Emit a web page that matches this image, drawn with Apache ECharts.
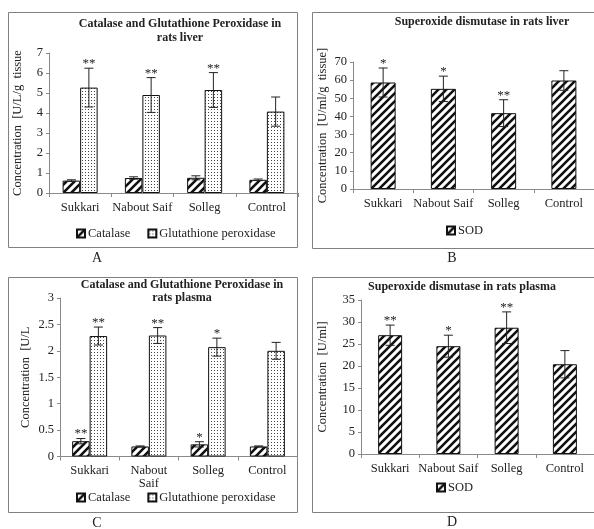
<!DOCTYPE html>
<html><head><meta charset="utf-8">
<script src="https://cdn.jsdelivr.net/npm/echarts@6/dist/echarts.min.js"></script>
<style>html,body{margin:0;padding:0;background:#fff}#c{width:594px;height:529px}</style>
</head><body><div id="c"></div>
<script>
// ---- data ----
const categories = ['Sukkari', 'Nabout Saif', 'Solleg', 'Control'];
const categoriesC = ['Sukkari', 'Nabout\nSaif', 'Solleg', 'Control'];
// A: liver
const liverCatalase = [0.62, 0.75, 0.76, 0.66];
const liverCatalaseErr = [0.04, 0.06, 0.10, 0.04];
const liverCatalaseSig = ['', '', '', ''];
const liverGPx = [5.27, 4.90, 5.15, 4.07];
const liverGPxErr = [0.97, 0.87, 0.87, 0.73];
const liverGPxSig = ['**', '**', '**', ''];
// B: liver SOD
const liverSOD = [58.7, 55.2, 41.8, 59.8];
const liverSODErr = [8.0, 7.0, 7.4, 5.4];
const liverSODSig = ['*', '*', '**', ''];
// C: plasma
const plasmaCatalase = [0.29, 0.19, 0.23, 0.19];
const plasmaCatalaseErr = [0.05, 0.01, 0.05, 0.01];
const plasmaCatalaseSig = ['**', '', '*', ''];
const plasmaGPx = [2.28, 2.29, 2.07, 2.00];
const plasmaGPxErr = [0.17, 0.15, 0.17, 0.16];
const plasmaGPxSig = ['**', '**', '*', ''];
// D: plasma SOD
const plasmaSOD = [27.0, 24.5, 28.7, 20.4];
const plasmaSODErr = [2.3, 2.5, 3.6, 3.1];
const plasmaSODSig = ['**', '*', '**', ''];
// tick settings
const yAxisA = {min: 0, max: 7, interval: 1};
const yAxisB = {min: 0, max: 70, interval: 10};
const yAxisC = {min: 0, max: 3, interval: 0.5};
const yAxisD = {min: 0, max: 35, interval: 5};

// ---- patterns ----
function stripes() {
  const c = document.createElement('canvas'); c.width = 8; c.height = 8;
  const g = c.getContext('2d');
  g.fillStyle = '#fff'; g.fillRect(0, 0, 8, 8);
  g.strokeStyle = '#111'; g.lineWidth = 2.6;
  g.beginPath();
  g.moveTo(-2, 10); g.lineTo(10, -2);
  g.moveTo(-6, 6); g.lineTo(6, -6);
  g.moveTo(2, 14); g.lineTo(14, 2);
  g.stroke();
  return c;
}
function dots() {
  const c = document.createElement('canvas'); c.width = 3; c.height = 3;
  const g = c.getContext('2d');
  g.fillStyle = '#fff'; g.fillRect(0, 0, 3, 3);
  g.fillStyle = '#444'; g.fillRect(1, 1, 1, 1);
  return c;
}
const hatch = {image: stripes(), repeat: 'repeat'};
const dotted = {image: dots(), repeat: 'repeat'};

const FONT = 'Liberation Serif';
const chart = echarts.init(document.getElementById('c'), null, {renderer: 'canvas'});

const grids = [
  {left: 49, top: 53, width: 249, height: 140},
  {left: 353, top: 62, width: 251, height: 127},
  {left: 60, top: 298, width: 237, height: 158.5},
  {left: 361, top: 300, width: 245, height: 154}
];
const names = ['Concentration  [U/L/g  tissue', 'Concentration  [U/ml/g  tissue]', 'Concentration  [U/L', 'Concentration  [U/ml]'];
const gaps = [25, 24, 28, 32];
const ys = [yAxisA, yAxisB, yAxisC, yAxisD];

const xAxes = grids.map((g, i) => ({
  type: 'category', gridIndex: i, data: i === 2 ? categoriesC : categories,
  axisLine: {lineStyle: {color: '#8a8a8a'}},
  axisTick: {show: true, length: 4, lineStyle: {color: '#8a8a8a'}},
  axisLabel: {color: '#222', fontFamily: FONT, fontSize: 12.5, margin: 8, lineHeight: 13, interval: 0},
  splitLine: {show: false}
}));
const yAxes = grids.map((g, i) => ({
  type: 'value', gridIndex: i, min: ys[i].min, max: ys[i].max, interval: ys[i].interval,
  name: names[i], nameLocation: 'middle', nameGap: gaps[i],
  nameTextStyle: {color: '#222', fontFamily: FONT, fontSize: 12.5},
  axisLine: {show: true, lineStyle: {color: '#8a8a8a'}},
  axisTick: {show: true, length: 3, lineStyle: {color: '#8a8a8a'}},
  axisLabel: {color: '#222', fontFamily: FONT, fontSize: 12.5, margin: 6},
  splitLine: {show: false}
}));

const barWidths = [17.5, 25, 17.5, 24];

function barSeries(name, vals, gi, color) {
  return {
    type: 'bar', name: name, xAxisIndex: gi, yAxisIndex: gi, data: vals,
    barWidth: barWidths[gi], barGap: '0%',
    itemStyle: {color: color, borderColor: '#111', borderWidth: 1},
    emphasis: {disabled: true}, animation: false, z: 2
  };
}
function errSeries(vals, errs, sig, gi, offset) {
  return {
    type: 'custom', xAxisIndex: gi, yAxisIndex: gi, z: 5, animation: false, silent: true,
    data: vals.map((v, i) => [i, v, errs[i]]),
    encode: {x: 0, y: 1},
    clip: false,
    renderItem: function (params, api) {
      const x = api.value(0), v = api.value(1), e = api.value(2);
      const top = api.coord([x, v + e]);
      const bot = api.coord([x, v - e]);
      const cx = top[0] + offset;
      const cap = 4.5;
      const st = {stroke: '#222', lineWidth: 1};
      const children = [
        {type: 'line', shape: {x1: cx, y1: top[1], x2: cx, y2: bot[1]}, style: st},
        {type: 'line', shape: {x1: cx - cap, y1: top[1], x2: cx + cap, y2: top[1]}, style: st},
        {type: 'line', shape: {x1: cx - cap, y1: bot[1], x2: cx + cap, y2: bot[1]}, style: st}
      ];
      const s = sig[params.dataIndex];
      if (s) {
        children.push({type: 'text', style: {text: s, x: cx, y: top[1] + 2, textAlign: 'center', textVerticalAlign: 'bottom',
          fill: '#222', font: '13px "' + FONT + '"'}});
      }
      return {type: 'group', children: children};
    }
  };
}

const series = [
  barSeries('Catalase', liverCatalase, 0, hatch),
  barSeries('Glutathione peroxidase', liverGPx, 0, dotted),
  errSeries(liverCatalase, liverCatalaseErr, liverCatalaseSig, 0, -barWidths[0] / 2),
  errSeries(liverGPx, liverGPxErr, liverGPxSig, 0, barWidths[0] / 2),
  barSeries('SOD', liverSOD, 1, hatch),
  errSeries(liverSOD, liverSODErr, liverSODSig, 1, 0),
  barSeries('Catalase', plasmaCatalase, 2, hatch),
  barSeries('Glutathione peroxidase', plasmaGPx, 2, dotted),
  errSeries(plasmaCatalase, plasmaCatalaseErr, plasmaCatalaseSig, 2, -barWidths[2] / 2),
  errSeries(plasmaGPx, plasmaGPxErr, plasmaGPxSig, 2, barWidths[2] / 2),
  barSeries('SOD', plasmaSOD, 3, hatch),
  errSeries(plasmaSOD, plasmaSODErr, plasmaSODSig, 3, 0)
];

const legendBase = {
  orient: 'horizontal', itemWidth: 8, itemHeight: 8, itemGap: 17, icon: 'rect',
  textStyle: {color: '#222', fontFamily: FONT, fontSize: 12.5, padding: [0, 0, 0, -2]},
  selectedMode: false, padding: 0
};
const legends = [
  Object.assign({}, legendBase, {data: ['Catalase', 'Glutathione peroxidase'], left: 76, top: 227}),
  Object.assign({}, legendBase, {data: ['SOD'], left: 446, top: 224}),
  Object.assign({}, legendBase, {data: ['Catalase', 'Glutathione peroxidase'], left: 76, top: 491}),
  Object.assign({}, legendBase, {data: ['SOD'], left: 436, top: 481})
];

function txt(t, x, y, size, bold) {
  return {type: 'text', x: x, y: y, silent: true,
    style: {text: t, x: 0, y: 0, textAlign: 'center', textVerticalAlign: 'middle', fill: '#222',
      font: (bold ? 'bold ' : '') + size + 'px "' + FONT + '"'}};
}
function box(x, y, w, h) {
  return {type: 'rect', silent: true, shape: {x: x, y: y, width: w, height: h},
    style: {fill: null, stroke: '#808080', lineWidth: 1}, z: -1};
}
const graphics = [
  box(8.5, 12.5, 289, 235), box(312.5, 12.5, 290, 236),
  box(8.5, 277.5, 289, 235), box(312.5, 277.5, 290, 235),
  txt('Catalase and Glutathione Peroxidase in', 180, 24, 12, true),
  txt('rats liver', 180, 38, 12, true),
  txt('Superoxide dismutase in rats liver', 482, 22, 12, true),
  txt('Catalase and Glutathione Peroxidase in', 182, 285, 12, true),
  txt('rats plasma', 182, 298, 12, true),
  txt('Superoxide dismutase in rats plasma', 462, 287, 12, true),
  txt('A', 97, 258, 14, false),
  txt('B', 452, 258, 14, false),
  txt('C', 97, 523, 14, false),
  txt('D', 452, 522, 14, false)
];

chart.setOption({
  animation: false,
  backgroundColor: '#fff',
  grid: grids,
  xAxis: xAxes,
  yAxis: yAxes,
  legend: legends,
  series: series,
  graphic: graphics
});
</script></body></html>
